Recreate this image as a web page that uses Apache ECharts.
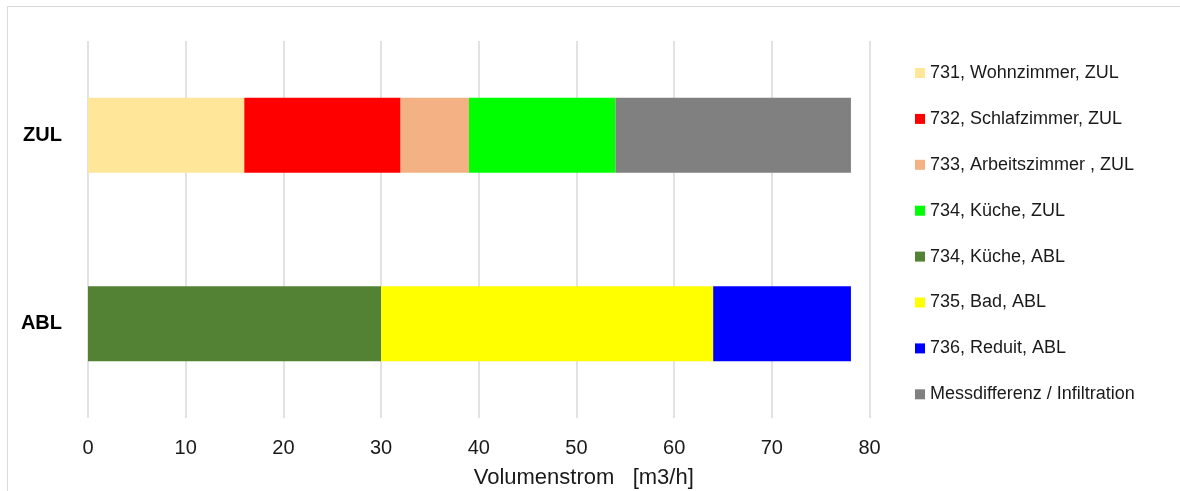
<!DOCTYPE html>
<html>
<head>
<meta charset="utf-8">
<script src="https://cdn.jsdelivr.net/npm/echarts@6/dist/echarts.min.js"></script>
<style>
html,body{margin:0;padding:0;background:#fff;}
#chart{width:1180px;height:491px;}
</style>
</head>
<body>
<div id="chart"></div>
<script>
// Categories (top to bottom)
const categories = ['ZUL', 'ABL'];
// Series names (legend order)
const seriesNames = [
  '731, Wohnzimmer, ZUL',
  '732, Schlafzimmer, ZUL',
  '733, Arbeitszimmer , ZUL',
  '734, Küche, ZUL',
  '734, Küche, ABL',
  '735, Bad, ABL',
  '736, Reduit, ABL',
  'Messdifferenz / Infiltration'
];
// Values per series: [ZUL, ABL]
const wohnzimmerZUL   = [16, null];
const schlafzimmerZUL = [16, null];
const arbeitszimmerZUL= [7, null];
const kuecheZUL       = [15, null];
const kuecheABL       = [null, 30];
const badABL          = [null, 34];
const reduitABL       = [null, 14.1];
const messdifferenz   = [24.1, null];
const seriesValues = [wohnzimmerZUL, schlafzimmerZUL, arbeitszimmerZUL, kuecheZUL, kuecheABL, badABL, reduitABL, messdifferenz];
const seriesColors = ['#FFE699', '#FF0000', '#F4B183', '#00FF00', '#548235', '#FFFF00', '#0000FF', '#808080'];
// Axis
const xMin = 0, xMax = 80, xInterval = 10;
const xAxisTitle = 'Volumenstrom   [m3/h]';

const font = '"Liberation Sans", Arial, sans-serif';
const chart = echarts.init(document.getElementById('chart'), null, {renderer: 'canvas'});
chart.setOption({
  backgroundColor: '#ffffff',
  animation: false,
  textStyle: {fontFamily: font},
  graphic: [{
    type: 'rect',
    shape: {x: 7.5, y: 6.5, width: 1200, height: 500},
    style: {fill: 'none', stroke: '#d9d9d9', lineWidth: 1},
    silent: true
  }],
  grid: {left: 88, right: 310.5, top: 41, bottom: 73, containLabel: false, outerBoundsMode: 'none'},
  legend: {
    orient: 'vertical',
    left: 915,
    top: 64,
    padding: 0,
    itemWidth: 10,
    itemHeight: 10,
    itemGap: 27.9,
    itemTextGap: 5,
    icon: 'rect',
    textStyle: {fontSize: 18, color: '#1a1a1a', fontFamily: font},
    data: seriesNames
  },
  xAxis: {
    type: 'value',
    min: xMin, max: xMax, interval: xInterval,
    axisLine: {show: false},
    axisTick: {show: false},
    splitLine: {show: true, lineStyle: {color: '#d9d9d9', width: 1.5}},
    axisLabel: {fontSize: 20, color: '#1a1a1a', margin: 20, fontFamily: font},
    name: xAxisTitle,
    nameLocation: 'middle',
    nameGap: 49,
    nameTextStyle: {fontSize: 22, color: '#1a1a1a', fontFamily: font, padding: [0, 0, 0, 210]}
  },
  yAxis: {
    type: 'category',
    data: categories,
    inverse: true,
    axisLine: {show: false},
    axisTick: {show: false},
    axisLabel: {fontSize: 20, fontWeight: 'bold', color: '#000', margin: 26, fontFamily: font, padding: [5, 0, 0, 0]}
  },
  series: seriesNames.map((n, i) => ({
    name: n,
    type: 'bar',
    stack: 'total',
    barWidth: 75,
    itemStyle: {color: seriesColors[i]},
    data: seriesValues[i]
  }))
});
</script>
</body>
</html>
